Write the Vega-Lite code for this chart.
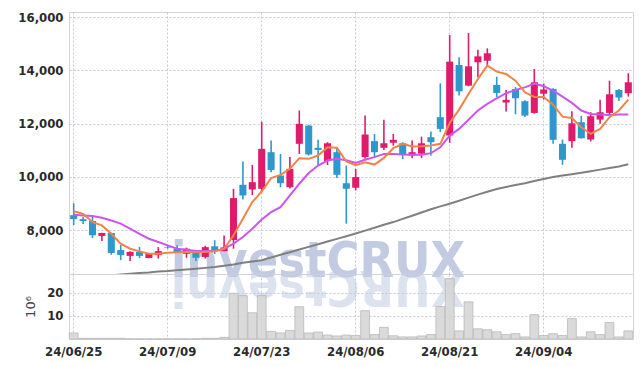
{
  "$schema": "https://vega.github.io/schema/vega-lite/v6.json",
  "background": "white",
  "padding": {"left": 17, "top": 10, "right": 15, "bottom": 5},
  "spacing": 0,
  "bounds": "flush",
  "config": {
    "font": "DejaVu Sans Condensed",
    "view": {"stroke": "#d4d4dc"},
    "axis": {
      "labelFont": "DejaVu Sans Condensed",
      "labelFontWeight": "bold",
      "labelFontSize": 13,
      "labelColor": "#2a2a2a",
      "gridColor": "#c6c6dc",
      "gridDash": [2, 2],
      "gridWidth": 1,
      "domain": false,
      "ticks": false
    }
  },
  "datasets": {
    "k": [
      {"d": "24/06/25", "o": 8560, "h": 9010, "l": 8190, "c": 8410, "ma5": 8710, "ma20": 8575, "ma120": 6180, "v": 2.6},
      {"d": "24/06/26", "o": 8410, "h": 8490, "l": 8230, "c": 8340, "ma5": 8610, "ma20": 8550, "ma120": 6210, "v": 0.3},
      {"d": "24/06/27", "o": 8340, "h": 8490, "l": 7700, "c": 7810, "ma5": 8300, "ma20": 8525, "ma120": 6240, "v": 0.3},
      {"d": "24/06/28", "o": 7780, "h": 7900, "l": 7590, "c": 7890, "ma5": 8175, "ma20": 8460, "ma120": 6270, "v": 0.3},
      {"d": "24/07/01", "o": 7890, "h": 7900, "l": 7075, "c": 7140, "ma5": 7860, "ma20": 8360, "ma120": 6300, "v": 0.3},
      {"d": "24/07/02", "o": 7250, "h": 7440, "l": 6870, "c": 7060, "ma5": 7490, "ma20": 8240, "ma120": 6330, "v": 0.3},
      {"d": "24/07/03", "o": 7030, "h": 7200, "l": 6840, "c": 7180, "ma5": 7300, "ma20": 8050, "ma120": 6360, "v": 0.05},
      {"d": "24/07/04", "o": 7180, "h": 7370, "l": 6950, "c": 7030, "ma5": 7200, "ma20": 7860, "ma120": 6390, "v": 0.05},
      {"d": "24/07/05", "o": 6950, "h": 7120, "l": 6940, "c": 7100, "ma5": 7110, "ma20": 7675, "ma120": 6410, "v": 0.05},
      {"d": "24/07/08", "o": 7060, "h": 7360, "l": 6930, "c": 7210, "ma5": 7110, "ma20": 7550, "ma120": 6440, "v": 0.05},
      {"d": "24/07/09", "o": 7350, "h": 7400, "l": 7300, "c": 7330, "ma5": 7150, "ma20": 7425, "ma120": 6460, "v": 0.05},
      {"d": "24/07/10", "o": 7300, "h": 7430, "l": 7140, "c": 7175, "ma5": 7170, "ma20": 7300, "ma120": 6490, "v": 0.05},
      {"d": "24/07/11", "o": 7110, "h": 7340, "l": 6960, "c": 7300, "ma5": 7180, "ma20": 7260, "ma120": 6520, "v": 0.05},
      {"d": "24/07/12", "o": 7210, "h": 7220, "l": 6840, "c": 6960, "ma5": 7180, "ma20": 7210, "ma120": 6550, "v": 0.1},
      {"d": "24/07/15", "o": 6990, "h": 7410, "l": 6930, "c": 7360, "ma5": 7180, "ma20": 7210, "ma120": 6580, "v": 0.3},
      {"d": "24/07/16", "o": 7390, "h": 7620, "l": 7100, "c": 7210, "ma5": 7200, "ma20": 7210, "ma120": 6610, "v": 0.3},
      {"d": "24/07/17", "o": 7210, "h": 7800, "l": 7200, "c": 7350, "ma5": 7300, "ma20": 7300, "ma120": 6660, "v": 0.7},
      {"d": "24/07/18", "o": 7625, "h": 9550, "l": 7300, "c": 9200, "ma5": 7800, "ma20": 7490, "ma120": 6710, "v": 19.7},
      {"d": "24/07/19", "o": 9700, "h": 10575, "l": 9150, "c": 9300, "ma5": 8425, "ma20": 7740, "ma120": 6770, "v": 18.7},
      {"d": "24/07/22", "o": 9525, "h": 10450, "l": 9310, "c": 9800, "ma5": 9050, "ma20": 8050, "ma120": 6820, "v": 11.3},
      {"d": "24/07/23", "o": 9550, "h": 12070, "l": 9420, "c": 11050, "ma5": 9450, "ma20": 8400, "ma120": 6870, "v": 18.7},
      {"d": "24/07/24", "o": 10925, "h": 11360, "l": 10175, "c": 10260, "ma5": 9950, "ma20": 8675, "ma120": 6970, "v": 3.3},
      {"d": "24/07/25", "o": 10050, "h": 10860, "l": 9610, "c": 9760, "ma5": 10075, "ma20": 8860, "ma120": 7070, "v": 2.6},
      {"d": "24/07/26", "o": 9610, "h": 10740, "l": 9560, "c": 10300, "ma5": 10300, "ma20": 9300, "ma120": 7170, "v": 3.7},
      {"d": "24/07/29", "o": 11240, "h": 12490, "l": 10860, "c": 11990, "ma5": 10700, "ma20": 9740, "ma120": 7270, "v": 13.9},
      {"d": "24/07/30", "o": 11925, "h": 11950, "l": 10800, "c": 10840, "ma5": 10675, "ma20": 10140, "ma120": 7370, "v": 2.6},
      {"d": "24/07/31", "o": 11090, "h": 11390, "l": 10430, "c": 11010, "ma5": 10800, "ma20": 10425, "ma120": 7470, "v": 3.0},
      {"d": "24/08/01", "o": 10590, "h": 11300, "l": 10440, "c": 11260, "ma5": 11110, "ma20": 10610, "ma120": 7570, "v": 1.7},
      {"d": "24/08/02", "o": 10925, "h": 11090, "l": 9960, "c": 10075, "ma5": 11090, "ma20": 10675, "ma120": 7670, "v": 1.3},
      {"d": "24/08/05", "o": 9760, "h": 10425, "l": 8240, "c": 9550, "ma5": 10575, "ma20": 10620, "ma120": 7770, "v": 1.7},
      {"d": "24/08/06", "o": 9590, "h": 10300, "l": 9490, "c": 9990, "ma5": 10440, "ma20": 10520, "ma120": 7870, "v": 1.5},
      {"d": "24/08/07", "o": 10740, "h": 12300, "l": 10675, "c": 11590, "ma5": 10550, "ma20": 10640, "ma120": 7980, "v": 12.2},
      {"d": "24/08/08", "o": 11340, "h": 11610, "l": 10740, "c": 10925, "ma5": 10460, "ma20": 10740, "ma120": 8090, "v": 1.9},
      {"d": "24/08/09", "o": 11090, "h": 12140, "l": 11010, "c": 11260, "ma5": 10710, "ma20": 10860, "ma120": 8200, "v": 5.0},
      {"d": "24/08/12", "o": 11280, "h": 11610, "l": 11170, "c": 11390, "ma5": 11075, "ma20": 10860, "ma120": 8300, "v": 1.4},
      {"d": "24/08/13", "o": 11260, "h": 11300, "l": 10670, "c": 10820, "ma5": 11240, "ma20": 10840, "ma120": 8420, "v": 0.9},
      {"d": "24/08/14", "o": 10800, "h": 11360, "l": 10700, "c": 10925, "ma5": 11140, "ma20": 10830, "ma120": 8540, "v": 0.9},
      {"d": "24/08/16", "o": 10870, "h": 11510, "l": 10700, "c": 11260, "ma5": 11150, "ma20": 10830, "ma120": 8660, "v": 1.3},
      {"d": "24/08/19", "o": 11490, "h": 11700, "l": 10800, "c": 11300, "ma5": 11175, "ma20": 10890, "ma120": 8780, "v": 1.9},
      {"d": "24/08/20", "o": 12240, "h": 13510, "l": 11675, "c": 11800, "ma5": 11240, "ma20": 11110, "ma120": 8890, "v": 14.0},
      {"d": "24/08/21", "o": 11550, "h": 15325, "l": 11275, "c": 14325, "ma5": 12020, "ma20": 11550, "ma120": 8990, "v": 26.0},
      {"d": "24/08/22", "o": 14200, "h": 14490, "l": 13050, "c": 13210, "ma5": 12525, "ma20": 11800, "ma120": 9100, "v": 3.5},
      {"d": "24/08/23", "o": 13425, "h": 15400, "l": 13400, "c": 14150, "ma5": 13110, "ma20": 12140, "ma120": 9220, "v": 16.0},
      {"d": "24/08/26", "o": 14300, "h": 14775, "l": 13740, "c": 14525, "ma5": 13675, "ma20": 12490, "ma120": 9330, "v": 4.4},
      {"d": "24/08/27", "o": 14360, "h": 14825, "l": 14180, "c": 14640, "ma5": 14175, "ma20": 12740, "ma120": 9440, "v": 4.0},
      {"d": "24/08/28", "o": 13450, "h": 13760, "l": 12990, "c": 13150, "ma5": 13950, "ma20": 12950, "ma120": 9540, "v": 3.1},
      {"d": "24/08/29", "o": 12790, "h": 13260, "l": 12450, "c": 12890, "ma5": 13860, "ma20": 13140, "ma120": 9620, "v": 1.9},
      {"d": "24/08/30", "o": 13300, "h": 13370, "l": 12350, "c": 12950, "ma5": 13610, "ma20": 13260, "ma120": 9690, "v": 2.3},
      {"d": "24/09/02", "o": 12840, "h": 12880, "l": 12250, "c": 12300, "ma5": 13175, "ma20": 13360, "ma120": 9760, "v": 0.9},
      {"d": "24/09/03", "o": 12400, "h": 14050, "l": 12370, "c": 13550, "ma5": 13000, "ma20": 13500, "ma120": 9840, "v": 10.5},
      {"d": "24/09/04", "o": 13120, "h": 13500, "l": 12900, "c": 13280, "ma5": 13000, "ma20": 13400, "ma120": 9920, "v": 1.5},
      {"d": "24/09/05", "o": 13300, "h": 13330, "l": 11240, "c": 11390, "ma5": 12710, "ma20": 13240, "ma120": 9990, "v": 2.3},
      {"d": "24/09/06", "o": 11240, "h": 11400, "l": 10450, "c": 10640, "ma5": 12260, "ma20": 13010, "ma120": 10050, "v": 1.5},
      {"d": "24/09/09", "o": 11340, "h": 12460, "l": 11090, "c": 12010, "ma5": 12210, "ma20": 12775, "ma120": 10100, "v": 8.8},
      {"d": "24/09/10", "o": 12050, "h": 12290, "l": 11440, "c": 11450, "ma5": 11860, "ma20": 12490, "ma120": 10150, "v": 0.9},
      {"d": "24/09/11", "o": 11400, "h": 12425, "l": 11330, "c": 12275, "ma5": 11610, "ma20": 12360, "ma120": 10210, "v": 3.1},
      {"d": "24/09/12", "o": 12150, "h": 12890, "l": 11990, "c": 12425, "ma5": 11800, "ma20": 12340, "ma120": 10270, "v": 1.9},
      {"d": "24/09/13", "o": 12400, "h": 13610, "l": 12300, "c": 13100, "ma5": 12240, "ma20": 12320, "ma120": 10330, "v": 7.1},
      {"d": "24/09/19", "o": 13260, "h": 13300, "l": 12850, "c": 12980, "ma5": 12490, "ma20": 12340, "ma120": 10390, "v": 0.9},
      {"d": "24/09/20", "o": 13140, "h": 13890, "l": 13010, "c": 13550, "ma5": 12900, "ma20": 12340, "ma120": 10470, "v": 3.5}
    ]
  },
  "vconcat": [
    {
      "width": 564,
      "height": 262,
      "data": {"name": "k"},
      "encoding": {
        "x": {
          "field": "d", "type": "ordinal", "sort": "ascending",
          "scale": {"paddingInner": 0.25, "paddingOuter": 0.125},
          "axis": {"values": ["24/06/25", "24/07/09", "24/07/23", "24/08/06", "24/08/21", "24/09/04"], "labels": false, "grid": true, "bandPosition": 0.5, "title": null}
        }
      },
      "layer": [
        {
          "transform": [{"filter": "datum.d == '24/07/31'"}],
          "mark": {"type": "text", "text": "investCRUX", "font": "DejaVu Sans Condensed", "fontWeight": "bold", "fontSize": 50, "color": "#c3cbe2", "align": "center", "baseline": "alphabetic", "dy": 3},
          "encoding": {"y": {"datum": 6350, "type": "quantitative"}}
        },
        {
          "mark": {"type": "rule", "strokeWidth": 1.6},
          "encoding": {
            "y": {"field": "h", "type": "quantitative", "scale": {"domain": [6350, 16190], "nice": false, "zero": false},
              "axis": {"values": [8000, 10000, 12000, 14000, 16000], "format": ",d", "grid": true, "title": null, "labelPadding": 6, "minExtent": 40, "maxExtent": 40}},
            "y2": {"field": "l"},
            "color": {"condition": {"test": "datum.c >= datum.o", "value": "#e01b6a"}, "value": "#2e97cc"}
          }
        },
        {
          "mark": {"type": "bar"},
          "encoding": {
            "y": {"field": "o", "type": "quantitative"},
            "y2": {"field": "c"},
            "color": {"condition": {"test": "datum.c >= datum.o", "value": "#e01b6a"}, "value": "#2e97cc"}
          }
        },
        {
          "mark": {"type": "line", "color": "#808080", "strokeWidth": 2, "clip": true},
          "encoding": {"y": {"field": "ma120", "type": "quantitative"}}
        },
        {
          "mark": {"type": "line", "color": "#cc55ee", "strokeWidth": 2},
          "encoding": {"y": {"field": "ma20", "type": "quantitative"}}
        },
        {
          "mark": {"type": "line", "color": "#f08348", "strokeWidth": 2},
          "encoding": {"y": {"field": "ma5", "type": "quantitative"}}
        }
      ]
    },
    {
      "width": 564,
      "height": 65,
      "data": {"name": "k"},
      "encoding": {
        "x": {
          "field": "d", "type": "ordinal", "sort": "ascending",
          "scale": {"paddingInner": 0.06, "paddingOuter": 0.03},
          "axis": {"values": ["24/06/25", "24/07/09", "24/07/23", "24/08/06", "24/08/21", "24/09/04"], "labelAngle": 0, "labelPadding": 6, "grid": true, "bandPosition": 0.5, "title": null}
        }
      },
      "layer": [
        {
          "transform": [{"filter": "datum.d == '24/07/31'"}],
          "mark": {"type": "text", "text": "XURCtsevni", "font": "DejaVu Sans Condensed", "fontWeight": "bold", "fontSize": 50, "color": "#c3cbe2", "opacity": 0.55, "angle": 180, "align": "center", "baseline": "alphabetic", "dy": 3},
          "encoding": {"y": {"datum": 28, "type": "quantitative"}}
        },
        {
          "mark": {"type": "bar", "fill": "#d6d6d6", "stroke": "#b4b4b4", "strokeWidth": 0.8, "opacity": 0.9},
          "encoding": {
            "y": {"field": "v", "type": "quantitative", "scale": {"domain": [0, 28], "nice": false},
              "axis": {"values": [10, 20], "grid": true, "title": "10⁶", "titleFont": "DejaVu Sans", "titleFontWeight": "normal", "titleFontSize": 13, "titleColor": "#444", "titlePadding": 14, "labelPadding": 6, "minExtent": 18, "maxExtent": 18}}
          }
        }
      ]
    }
  ]
}
